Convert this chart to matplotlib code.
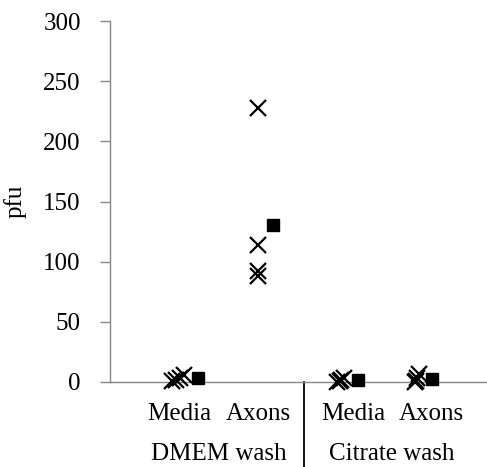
import matplotlib
matplotlib.use("Agg")
import matplotlib.pyplot as plt
import numpy as np

# Data
conditions = ["Media", "Axons", "Media", "Axons"]
groups = ["DMEM wash", "Citrate wash"]
# replicate values (X markers) per condition
rep_dmem_media = [1, 2, 3, 6]
rep_dmem_axons = [228, 114, 92, 88]
rep_cit_media = [0, 1, 2, 3]
rep_cit_axons = [0, 1, 3, 7]
replicates = [rep_dmem_media, rep_dmem_axons, rep_cit_media, rep_cit_axons]
means = [np.mean(r) for r in replicates]
yticks = [0, 50, 100, 150, 200, 250, 300]

# layout (positions, not data)
marker_pos = [1.0, 1.99, 3.04, 4.0]
jitter = [[-0.1, -0.05, 0.0, 0.05], [0, 0, 0, 0], [-0.05, -0.02, 0.0, 0.03], [-0.03, -0.01, 0.0, 0.03]]
mean_offset = [0.23, 0.19, 0.21, 0.19]
label_pos = [0.99, 1.99, 3.19, 4.18]
sep_pos = 2.57

plt.rcParams['font.family'] = ['Liberation Serif', 'DejaVu Serif']
FS = 18

fig = plt.figure(figsize=(4.87, 4.67), dpi=100)
W, H = 487, 467
ax = fig.add_axes([110 / W, (H - 382) / H, (487 - 110) / W, (382 - 21) / H])

for i, reps in enumerate(replicates):
    xs = [marker_pos[i] + j for j in jitter[i]]
    ax.plot(xs, reps, linestyle='none', marker='x', markersize=12,
            markeredgewidth=1.6, color='black', clip_on=False, zorder=3)
    ax.plot([marker_pos[i] + mean_offset[i]], [means[i]], linestyle='none',
            marker='s', markersize=8.5, color='black', clip_on=False, zorder=3)

ax.set_xlim(0.114, 4.886)
ax.set_ylim(0, 300)
ax.set_yticks(yticks)
ax.set_yticklabels([str(t) for t in yticks], fontsize=FS)
ax.tick_params(axis='y', direction='out', length=7, width=1, color='#868686', pad=14)
ax.set_xticks([])
for s in ['top', 'right']:
    ax.spines[s].set_visible(False)
for s in ['left', 'bottom']:
    ax.spines[s].set_color('#868686')
    ax.spines[s].set_linewidth(1)
ax.set_ylabel('pfu', fontsize=FS, labelpad=12)

trans = ax.get_xaxis_transform()
for lp, lab in zip(label_pos, conditions):
    ax.text(lp, -0.088, lab, transform=trans, ha='center', va='center', fontsize=FS)
for gi, g in enumerate(groups):
    gx = np.mean(label_pos[2 * gi:2 * gi + 2])
    ax.text(gx, -0.2, g, transform=trans, ha='center', va='center', fontsize=FS)
ax.plot([sep_pos, sep_pos], [0, -0.25], transform=trans, color='black',
        linewidth=1.3, clip_on=False)

fig.savefig('out.png', dpi=100)
